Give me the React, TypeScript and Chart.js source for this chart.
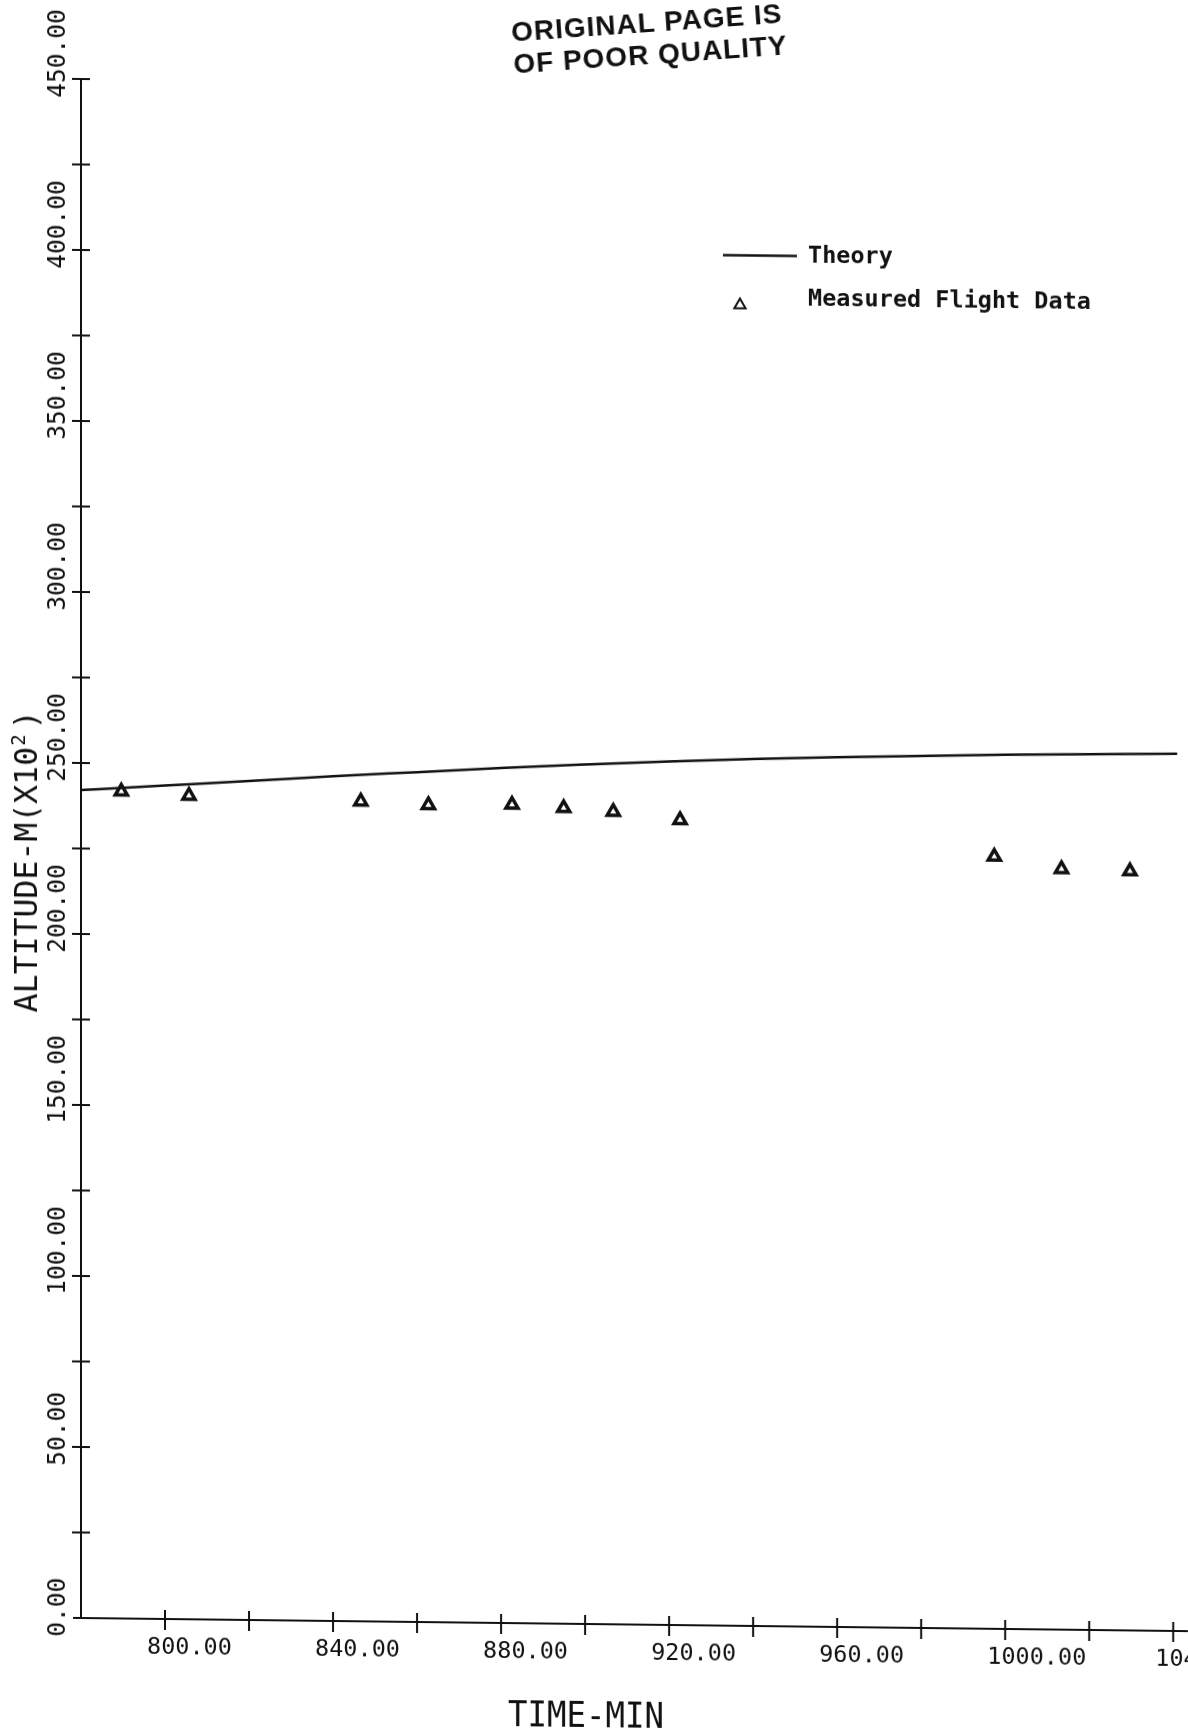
import React, { useEffect, useRef } from 'react';
import { Chart, registerables } from 'chart.js';

Chart.register(...registerables);

// ---- data ----
const theoryTime = [780, 800, 820, 840, 860, 880, 900, 920, 940, 960, 980, 1000, 1020, 1041];
const theoryAltitude = [242.1, 243.7, 245.3, 247.0, 248.5, 250.0, 251.3, 252.5, 253.5, 254.3, 255.0, 255.6, 256.1, 256.5];

const flightTime = [789.6, 805.7, 846.6, 862.7, 882.6, 894.9, 906.7, 922.6, 997.4, 1013.4, 1029.7];
const flightAltitude = [241.8, 240.8, 239.7, 238.9, 239.3, 238.5, 237.6, 235.4, 225.8, 222.4, 222.0];

const xTickValues = [800, 820, 840, 860, 880, 900, 920, 940, 960, 980, 1000, 1020, 1040];
const xTickLabels = ['800.00', '', '840.00', '', '880.00', '', '920.00', '', '960.00', '', '1000.00', '', '1040.00'];
const yTickValues = [0, 25, 50, 75, 100, 125, 150, 175, 200, 225, 250, 275, 300, 325, 350, 375, 400, 425, 450];
const yTickLabels = ['0.00', '', '50.00', '', '100.00', '', '150.00', '', '200.00', '', '250.00', '', '300.00', '', '350.00', '', '400.00', '', '450.00'];

const xMin = 780;
const xMax = 1041;
const yMin = 0;
const yMax = 450;

const xTitle = 'TIME-MIN';
const yTitleMain = 'ALTITUDE-M(X10';
const yTitleSup = '2';
const yTitleEnd = ')';
const legendLabels = ['Theory', 'Measured Flight Data'];
const stampLines = ['ORIGINAL PAGE IS', 'OF POOR QUALITY'];

const INK = '#111111';
const MONO = '"DejaVu Sans Mono", "Liberation Mono", monospace';
const SKEW = 0.01187; // slope of the scanned page

const axesPlugin = {
  id: 'plotterAxes',
  afterDraw(chart: any) {
    const ctx = chart.ctx as CanvasRenderingContext2D;
    const xs = chart.scales.x;
    const ys = chart.scales.y;
    const x0 = xs.getPixelForValue(xMin);
    const yb = ys.getPixelForValue(yMin);
    const yt = ys.getPixelForValue(yMax);
    const line = (a: number, b: number, c: number, d: number) => {
      ctx.beginPath();
      ctx.moveTo(a, b);
      ctx.lineTo(c, d);
      ctx.stroke();
    };
    ctx.save();
    ctx.strokeStyle = INK;
    ctx.fillStyle = INK;
    ctx.lineWidth = 2;
    ctx.lineCap = 'butt';

    // axes
    line(x0, yt, x0, yb);
    line(x0 - 8, yb, chart.width, yb);

    // y ticks (crossing)
    yTickValues.forEach((v) => {
      if (v === yMin) return;
      const p = ys.getPixelForValue(v);
      line(x0 - 9, p, x0 + 9, p);
    });
    // x ticks (crossing)
    xTickValues.forEach((v) => {
      const p = xs.getPixelForValue(v);
      line(p, yb - 9, p, yb + 11);
    });

    // x tick labels
    ctx.font = `23.5px ${MONO}`;
    ctx.textAlign = 'left';
    ctx.textBaseline = 'alphabetic';
    xTickValues.forEach((v, i) => {
      const lab = xTickLabels[i];
      if (!lab) return;
      const p = xs.getPixelForValue(v);
      ctx.fillText(lab, p - 18, yb + 35);
    });

    // y tick labels (rotated)
    ctx.font = `24.5px ${MONO}`;
    yTickValues.forEach((v, i) => {
      const lab = yTickLabels[i];
      if (!lab) return;
      const p = ys.getPixelForValue(v);
      ctx.save();
      ctx.translate(x0 - 16, p + 19);
      ctx.rotate(-Math.PI / 2);
      ctx.fillText(lab, 0, 0);
      ctx.restore();
    });

    // y title
    ctx.save();
    ctx.translate(37, 1013);
    ctx.rotate(-Math.PI / 2);
    ctx.font = `31.5px ${MONO}`;
    ctx.fillText(yTitleMain, 0, 0);
    let w = ctx.measureText(yTitleMain).width;
    ctx.font = `19px ${MONO}`;
    ctx.fillText(yTitleSup, w + 1, -12);
    w += ctx.measureText(yTitleSup).width + 6;
    ctx.font = `31.5px ${MONO}`;
    ctx.fillText(yTitleEnd, w, 0);
    ctx.restore();

    // x title
    ctx.save();
    const tx = 586;
    ctx.translate(tx, 1727 - (tx - x0) * SKEW);
    ctx.scale(0.9, 1);
    ctx.textAlign = 'center';
    ctx.font = `36px ${MONO}`;
    ctx.fillText(xTitle, 0, 0);
    ctx.restore();

    // legend
    const lx = 723;
    const ly = 255 - (lx - x0) * SKEW;
    ctx.lineWidth = 2.5;
    line(lx, ly, lx + 74, ly);
    ctx.font = `bold 23.5px ${MONO}`;
    ctx.textAlign = 'left';
    const tx2 = 808;
    const off = (tx2 - x0) * SKEW;
    ctx.fillText(legendLabels[0], tx2, 263 - off);
    ctx.fillText(legendLabels[1], tx2, 306 - off);
    // legend triangle
    const cx = 740;
    const cy = 305 - (cx - x0) * SKEW;
    const r = 6.5;
    ctx.lineWidth = 2;
    ctx.beginPath();
    ctx.moveTo(cx, cy - r);
    ctx.lineTo(cx + r * Math.cos(Math.PI / 6), cy + r / 2);
    ctx.lineTo(cx - r * Math.cos(Math.PI / 6), cy + r / 2);
    ctx.closePath();
    ctx.stroke();

    ctx.restore();
  },
};

export default function App() {
  const canvasRef = useRef<HTMLCanvasElement | null>(null);

  useEffect(() => {
    const canvas = canvasRef.current;
    if (!canvas) return;
    const chart = new Chart(canvas, {
      type: 'scatter',
      data: {
        datasets: [
          {
            label: legendLabels[0],
            data: theoryTime.map((t, i) => ({ x: t, y: theoryAltitude[i] })),
            showLine: true,
            borderColor: INK,
            borderWidth: 2.5,
            pointRadius: 0,
            cubicInterpolationMode: 'monotone',
            fill: false,
          },
          {
            label: legendLabels[1],
            data: flightTime.map((t, i) => ({ x: t, y: flightAltitude[i] })),
            showLine: false,
            pointStyle: 'triangle',
            pointRadius: 7,
            pointBorderWidth: 3.5,
            pointBackgroundColor: '#ffffff',
            pointBorderColor: INK,
            borderColor: INK,
            backgroundColor: '#ffffff',
          },
        ],
      },
      options: {
        responsive: false,
        animation: false,
        devicePixelRatio: 1,
        events: [],
        layout: { padding: { left: 81, top: 79, right: 0, bottom: 114 } },
        scales: {
          x: { type: 'linear', display: false, min: xMin, max: xMax },
          y: { type: 'linear', display: false, min: yMin, max: yMax },
        },
        plugins: {
          legend: { display: false },
          tooltip: { enabled: false },
        },
      },
      plugins: [axesPlugin],
    } as any);
    return () => chart.destroy();
  }, []);

  return (
    <div
      style={{
        position: 'absolute',
        left: 0,
        top: 0,
        width: 1188,
        height: 1732,
        background: '#ffffff',
        overflow: 'hidden',
      }}
    >
      <canvas
        ref={canvasRef}
        width={1188}
        height={1732}
        style={{
          display: 'block',
          width: 1188,
          height: 1732,
          transform: 'skewY(0.68deg)',
          transformOrigin: '81px 1618px',
        }}
      />
      <div
        style={{
          position: 'absolute',
          left: 512,
          top: 7,
          width: 275,
          fontFamily: '"Liberation Sans", Arial, sans-serif',
          fontWeight: 'bold',
          fontSize: 28,
          lineHeight: '32px',
          letterSpacing: '1px',
          color: INK,
          whiteSpace: 'nowrap',
          transform: 'rotate(-4deg)',
          transformOrigin: '137px 32px',
        }}
      >
        <div>{stampLines[0]}</div>
        <div>{stampLines[1]}</div>
      </div>
    </div>
  );
}
